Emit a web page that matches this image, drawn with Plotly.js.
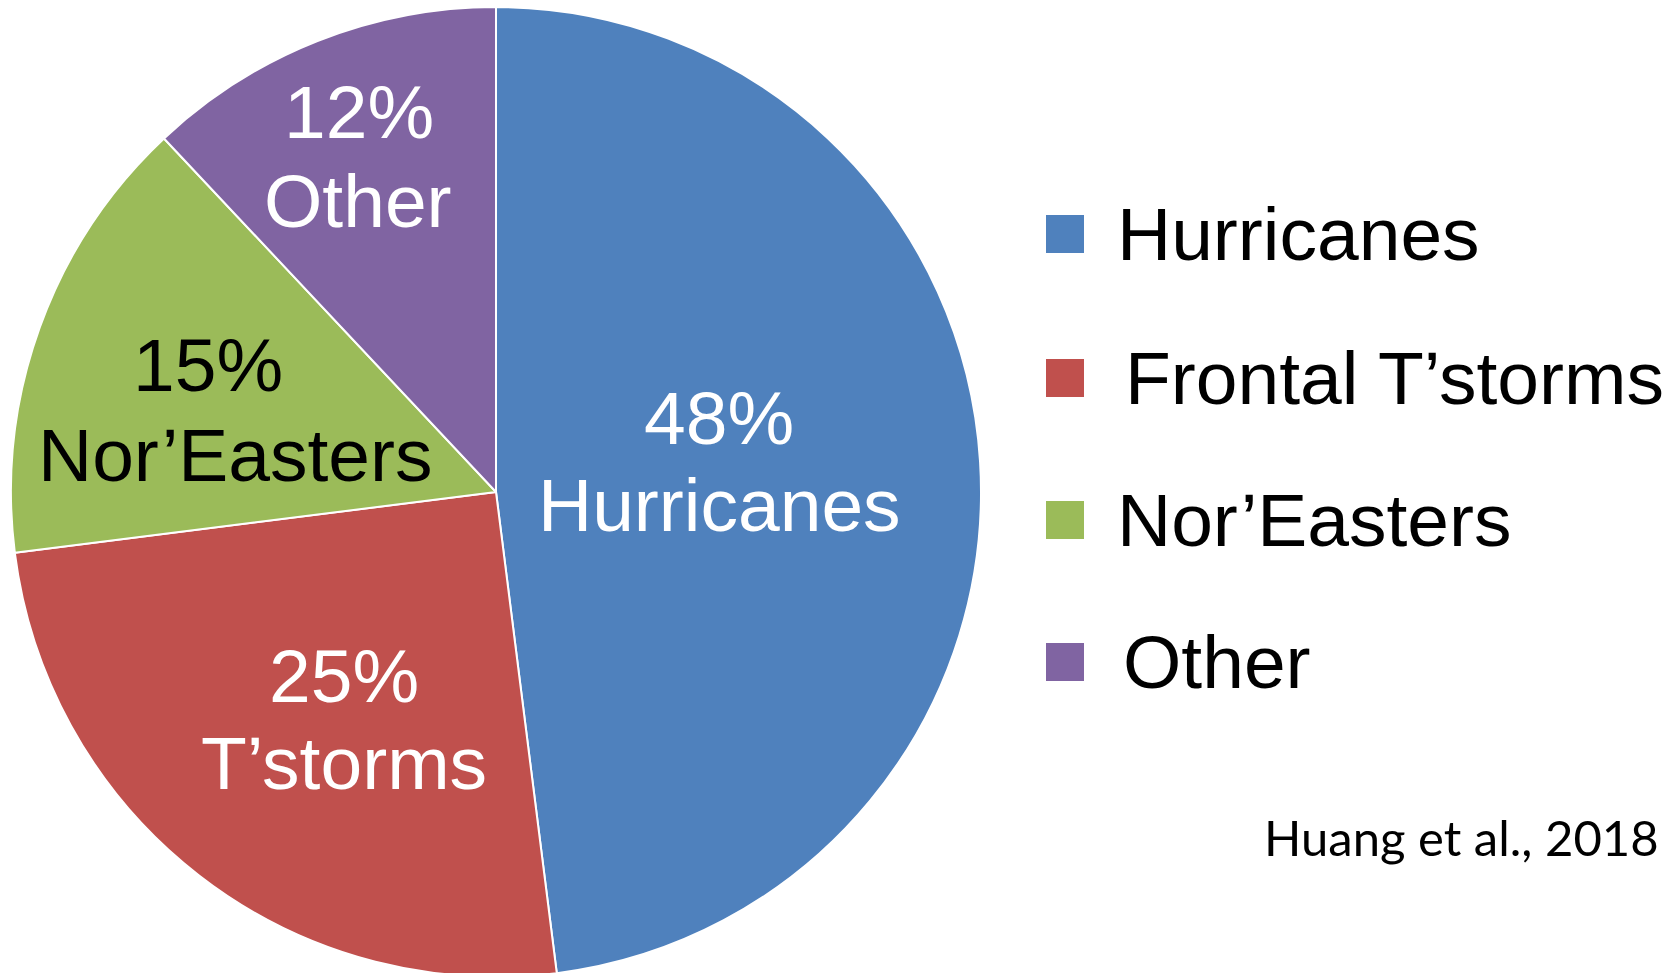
<!DOCTYPE html>
<html>
<head>
<meta charset="utf-8">
<script src="https://cdn.plot.ly/plotly-3.0.1.min.js"></script>
<style>
html, body { margin: 0; padding: 0; overflow: hidden; background: #ffffff; }
#chart { width: 1670px; height: 984px; }
</style>
</head>
<body>
<div id="chart"></div>
<script>
// ---- data ----
const legendLabels = ["Hurricanes", "Frontal T\u2019storms", "Nor\u2019Easters", "Other"];
const sliceNames = ["Hurricanes", "T\u2019storms", "Nor\u2019Easters", "Other"];
const shares = [48, 25, 15, 12];
const sliceColors = ["#4F81BD", "#C0504D", "#9BBB59", "#8064A2"];
const sliceTextColors = ["#ffffff", "#ffffff", "#000000", "#ffffff"];
const citation = "Huang et al., 2018";

// ---- layout helpers (pixel positions of decorations) ----
const W = 1670, H = 984;
const px = x => x / W;
const py = y => 1 - y / H;
// label positions [x, yPercentLine, xName, yNameLine] in pixels (cap centres)
const labelPos = [
  [719, 418, 719, 505],
  [344, 676, 344, 763],
  [208, 365, 235, 455],
  [359, 112, 358, 201]
];
const legendY = [234, 378, 520, 662];
const legendTextX = [1116, 1124, 1116, 1122];
const FONT = "'Liberation Sans', Arial, sans-serif";

const annotations = [];
const shapes = [];
shares.forEach((v, i) => {
  const p = labelPos[i];
  annotations.push({
    x: px(p[0]), y: py(p[1]), xref: "paper", yref: "paper",
    xanchor: "center", yanchor: "middle", showarrow: false, borderpad: 0,
    text: v + "%", font: {family: FONT, size: 75, color: sliceTextColors[i]}
  });
  annotations.push({
    x: px(p[2]), y: py(p[3]), xref: "paper", yref: "paper",
    xanchor: "center", yanchor: "middle", showarrow: false, borderpad: 0,
    text: sliceNames[i], font: {family: FONT, size: 75, color: sliceTextColors[i]}
  });
  // legend
  shapes.push({
    type: "rect", xref: "paper", yref: "paper",
    x0: px(1046), x1: px(1084), y0: py(legendY[i] + 19), y1: py(legendY[i] - 19),
    fillcolor: sliceColors[i], line: {width: 0}
  });
  annotations.push({
    x: px(legendTextX[i]), y: py(legendY[i]), xref: "paper", yref: "paper",
    xanchor: "left", yanchor: "middle", showarrow: false, borderpad: 0,
    text: legendLabels[i], font: {family: FONT, size: 75, color: "#000000"}
  });
});
annotations.push({
  x: px(1660), y: py(837), xref: "paper", yref: "paper",
  xanchor: "right", yanchor: "middle", showarrow: false, borderpad: 0,
  text: citation, font: {family: "Lato, 'Open Sans', sans-serif", size: 49, color: "#000000"}
});

const trace = {
  type: "pie",
  labels: legendLabels,
  values: shares,
  sort: false,
  direction: "clockwise",
  rotation: 0,
  textinfo: "none",
  hoverinfo: "skip",
  showlegend: false,
  marker: {colors: sliceColors, line: {color: "#ffffff", width: 2}},
  domain: {x: [px(11), px(981)], y: [0, 1]}
};

const layout = {
  width: W, height: H,
  margin: {l: 0, r: 0, t: 0, b: 0, pad: 0},
  paper_bgcolor: "#ffffff",
  plot_bgcolor: "#ffffff",
  showlegend: false,
  annotations: annotations,
  shapes: shapes
};

Plotly.newPlot("chart", [trace], layout, {displayModeBar: false, staticPlot: true});
</script>
</body>
</html>
